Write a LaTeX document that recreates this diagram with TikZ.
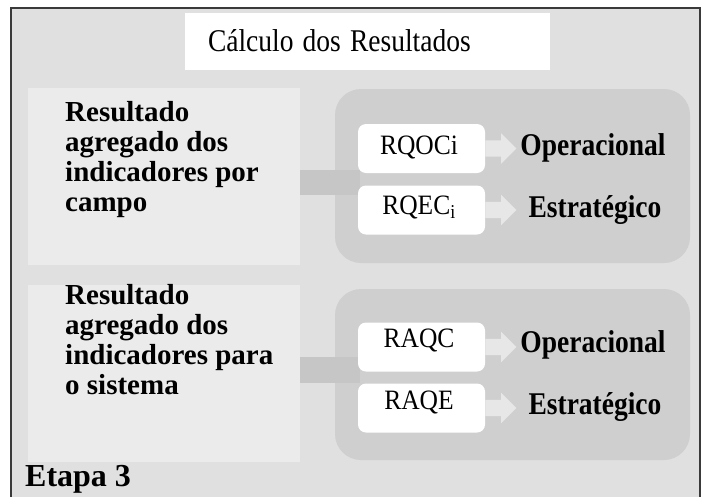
\documentclass[tikz,border=0pt]{standalone}
\usepackage{fontspec}
\setmainfont{Liberation Serif}
\usetikzlibrary{shapes.arrows,positioning}
\definecolor{bggray}{HTML}{E0E0E0}
\definecolor{lightblk}{HTML}{EBEBEB}
\definecolor{darkblk}{HTML}{CFCFCF}
\definecolor{shaftgray}{HTML}{C6C6C6}
\definecolor{framecol}{HTML}{3A3A3A}
\newcommand{\tallA}[1]{\scalebox{1}[1.15]{#1}}
\newcommand{\tallB}[1]{\scalebox{1}[1.1]{#1}}
\begin{document}
\begin{tikzpicture}[x=1pt,y=-1pt,
  titlebox/.style={fill=white,inner xsep=23pt,inner ysep=0pt,text width=319pt,align=left,minimum height=57pt,font=\fontsize{27.5}{30}\selectfont},
  lefttext/.style={inner sep=0pt,align=left,anchor=north west,font=\fontsize{29}{30}\selectfont\bfseries},
  codebox/.style={fill=white,rounded corners=8pt,minimum width=127pt,minimum height=49pt,inner sep=0pt},
  codetext/.style={anchor=base,inner sep=0pt,font=\fontsize{25.5}{28}\selectfont},
  restext/.style={anchor=base,inner sep=0pt,font=\fontsize{27.5}{30}\selectfont\bfseries},
  warrow/.style={single arrow,fill=white,fill opacity=0.5,draw=none,minimum height=31pt,inner xsep=0pt,inner ysep=8pt,single arrow head extend=7pt,anchor=west},
]
\useasboundingbox (0,0) rectangle (706,496);
\fill[white] (0,0) rectangle (706,496);
% frame
\fill[bggray] (11,8) rectangle (700,500);
\draw[framecol,line width=1.1pt] (11,500) -- (11,8) -- (700,8) -- (700,500);
% title
\node[titlebox] (title) at (367.5,41) {\tallA{Cálculo dos Resultados}};
% light blocks
\fill[lightblk] (28,88) rectangle (300,265);
\fill[lightblk] (28,285) rectangle (300,462);
% dark containers
\fill[darkblk,rounded corners=26pt] (335,89) rectangle (690,263);
\fill[darkblk,rounded corners=26pt] (335,289) rectangle (690,460);
% gray shafts
\fill[shaftgray] (300,170) rectangle (360,195);
\fill[shaftgray] (300,357) rectangle (360,383);
% left texts
\node[lefttext] (l1) at (65,101) {Resultado\\agregado dos\\indicadores por\\campo};
\node[lefttext] (l2) at (65,284) {Resultado\\agregado dos\\indicadores para\\o sistema};
% code boxes
\node[codebox] (b1) at (421.5,148.5) {};
\node[codebox] (b2) at (421.5,210) {};
\node[codebox] (b3) at (421.5,347) {};
\node[codebox] (b4) at (421.5,408) {};
\node[codetext] (c1) at (419,154) {\tallB{RQOCi}};
\node[codetext] (c2) at (419,214) {\tallB{RQEC\textsubscript{i}}};
\node[codetext] (c3) at (419,347) {\tallB{RAQC}};
\node[codetext] (c4) at (419,409) {\tallB{RAQE}};
% small white arrows
\node[warrow] (a1) at (b1.east) {};
\node[warrow] (a2) at (b2.east) {};
\node[warrow] (a3) at (b3.east) {};
\node[warrow] (a4) at (b4.east) {};
% results
\node[restext] (r1) at (593,155) {\tallA{Operacional}};
\node[restext] (r2) at (595,217) {\tallA{Estratégico}};
\node[restext] (r3) at (593,352) {\tallA{Operacional}};
\node[restext] (r4) at (595,414) {\tallA{Estratégico}};
% stage label
\node[anchor=base west,inner sep=0pt,font=\fontsize{32}{34}\selectfont\bfseries] (etapa) at (25,486.5) {Etapa 3};
\end{tikzpicture}
\end{document}
